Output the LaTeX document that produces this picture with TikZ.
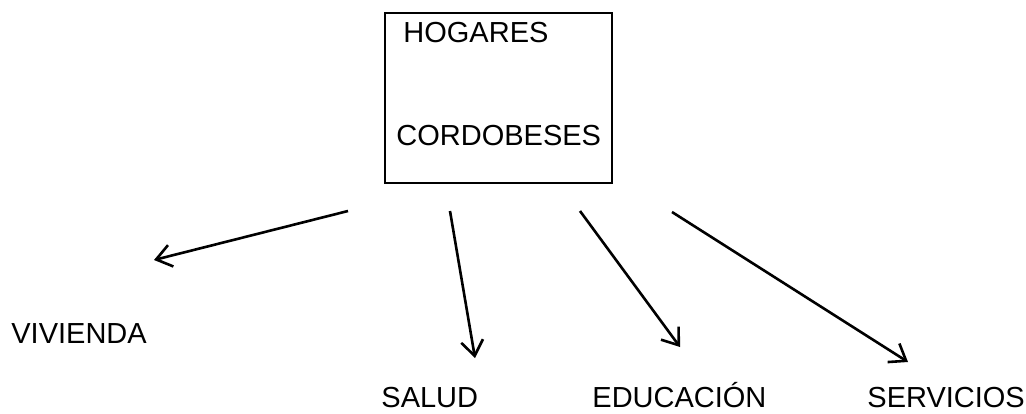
\documentclass[tikz,border=0pt]{standalone}
\usepackage{fontspec}
\setmainfont{Liberation Sans}
\usetikzlibrary{
  arrows.meta
}
\tikzset{
  rama/.style={
    line width=1.3pt,
    -{Straight Barb[length=7.5pt,width=11pt,line width=1.3pt]}
  },
  rotulo/.style={
    anchor=base west,
    inner sep=0pt,
    font=\fontsize{14.5pt}{17pt}\selectfont
  }
}

\begin{document}
\begin{tikzpicture}[x=0.5pt,y=-0.5pt]
\useasboundingbox (0,0) rectangle (1026,413);
% caja central
\draw[line width=1.3pt] (385,13) rectangle (612,183);
\node[rotulo] (hogares) at (403,42) {HOGARES};
\node[rotulo] (cordobeses) at (396,145) {CORDOBESES};
% destinos
\node[rotulo] (vivienda) at (11,343) {VIVIENDA};
\node[rotulo] (salud) at (381,407) {SALUD};
\node[rotulo] (educacion) at (592,407) {EDUCACIÓN};
\node[rotulo] (servicios) at (867,407) {SERVICIOS};
% puntas de las flechas
\coordinate (viv a) at (348,211);
\coordinate (viv b) at (154,260);
\coordinate (sal a) at (450,211);
\coordinate (sal b) at (475,358);
\coordinate (edu a) at (580,211);
\coordinate (edu b) at (680,347);
\coordinate (ser a) at (672,212);
\coordinate (ser b) at (908,362);
\draw[rama] (viv a) -- (viv b);
\draw[rama] (sal a) -- (sal b);
\draw[rama] (edu a) -- (edu b);
\draw[rama] (ser a) -- (ser b);
\end{tikzpicture}
\end{document}
